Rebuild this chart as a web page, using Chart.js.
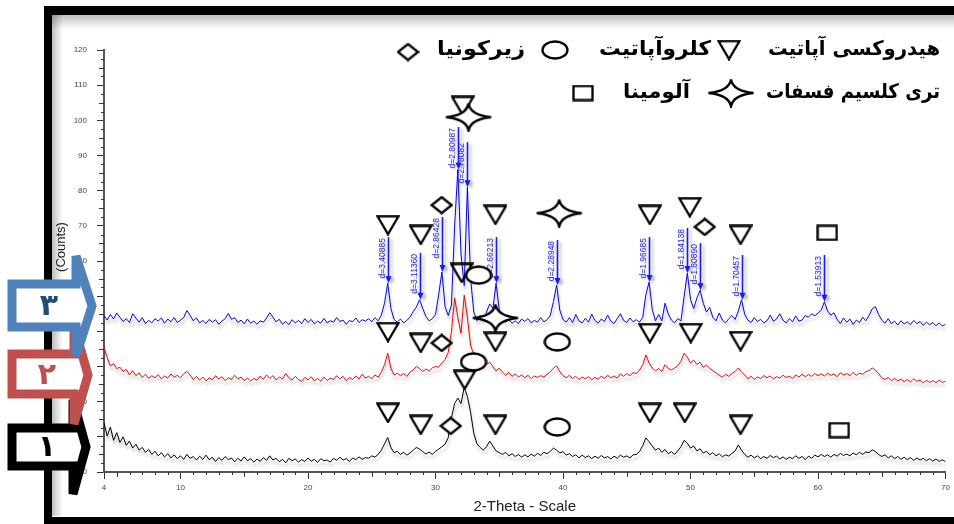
<!DOCTYPE html>
<html>
<head>
<meta charset="utf-8">
<script src="https://cdn.jsdelivr.net/npm/chart.js@4"></script>
<style>
html, body { margin: 0; padding: 0; background: #fff; overflow: hidden; }
canvas { display: block; }
</style>
</head>
<body>
<canvas id="xrd" width="954" height="524"></canvas>
<script>
// 2-theta (deg)
const theta = [
4,4.25,4.5,4.75,5,5.25,5.5,5.75, 6,6.25,6.5,6.75,7,7.25,7.5,7.75,
8,8.25,8.5,8.75,9,9.25,9.5,9.75, 10,10.25,10.5,10.75,11,11.25,11.5,11.75,
12,12.25,12.5,12.75,13,13.25,13.5,13.75, 14,14.25,14.5,14.75,15,15.25,15.5,15.75,
16,16.25,16.5,16.75,17,17.25,17.5,17.75, 18,18.25,18.5,18.75,19,19.25,19.5,19.75,
20,20.25,20.5,20.75,21,21.25,21.5,21.75, 22,22.25,22.5,22.75,23,23.25,23.5,23.75,
24,24.25,24.5,24.75,25,25.25,25.5,25.75, 26,26.25,26.5,26.75,27,27.25,27.5,27.75,
28,28.25,28.5,28.75,29,29.25,29.5,29.75, 30,30.25,30.5,30.75,31,31.25,31.5,31.75,
32,32.25,32.5,32.75,33,33.25,33.5,33.75, 34,34.25,34.5,34.75,35,35.25,35.5,35.75,
36,36.25,36.5,36.75,37,37.25,37.5,37.75, 38,38.25,38.5,38.75,39,39.25,39.5,39.75,
40,40.25,40.5,40.75,41,41.25,41.5,41.75, 42,42.25,42.5,42.75,43,43.25,43.5,43.75,
44,44.25,44.5,44.75,45,45.25,45.5,45.75, 46,46.25,46.5,46.75,47,47.25,47.5,47.75,
48,48.25,48.5,48.75,49,49.25,49.5,49.75, 50,50.25,50.5,50.75,51,51.25,51.5,51.75,
52,52.25,52.5,52.75,53,53.25,53.5,53.75, 54,54.25,54.5,54.75,55,55.25,55.5,55.75,
56,56.25,56.5,56.75,57,57.25,57.5,57.75, 58,58.25,58.5,58.75,59,59.25,59.5,59.75,
60,60.25,60.5,60.75,61,61.25,61.5,61.75, 62,62.25,62.5,62.75,63,63.25,63.5,63.75,
64,64.25,64.5,64.75,65,65.25,65.5,65.75, 66,66.25,66.5,66.75,67,67.25,67.5,67.75,
68,68.25,68.5,68.75,69,69.25,69.5,69.75, 70
];

// sample 3 (blue)
const blue3 = [
44.5,43.2,44.8,43.5,45.2,44.0,42.8,43.6, 42.5,45.0,43.8,42.6,43.9,42.2,43.1,42.4,
43.6,42.9,43.8,42.3,43.5,42.7,43.9,42.5, 43.2,43.9,45.9,44.6,43.0,43.8,42.4,43.1,
42.2,43.4,42.6,43.3,42.0,42.9,43.6,45.1, 43.4,43.9,42.5,43.2,42.1,43.5,42.3,42.9,
42.0,43.0,42.6,43.8,45.3,44.0,42.7,43.4, 42.0,42.8,41.9,43.3,42.4,43.1,42.2,43.6,
42.5,43.4,42.1,42.9,42.3,43.7,42.4,43.0, 42.6,43.9,42.8,43.2,42.0,43.1,42.7,43.8,
42.5,43.3,42.9,43.6,42.7,43.9,43.0,44.6, 48.0,53.7,46.5,43.4,42.6,43.5,42.4,43.1,
44.0,45.6,46.9,49.0,46.5,44.2,43.0,43.6, 44.8,50.5,56.9,47.0,44.5,47.5,70.0,86.0,
62.0,53.0,81.0,55.0,45.5,43.0,44.5,43.2, 45.5,47.8,46.5,53.7,46.0,43.5,42.6,43.4,
42.3,43.0,42.2,43.5,42.8,43.6,42.4,43.1, 42.6,43.9,42.7,43.3,44.5,48.5,53.2,46.0,
43.4,42.6,43.9,42.5,44.8,43.0,42.4,43.7, 42.6,44.9,43.1,42.3,43.5,42.8,44.6,42.9,
42.2,43.6,45.0,43.1,42.5,43.8,42.7,43.3, 42.6,44.0,50.5,54.0,46.2,43.0,44.8,43.0,
48.0,45.0,43.2,42.4,43.6,43.0,50.0,56.6, 49.0,46.5,49.5,51.7,48.0,45.5,46.8,44.0,
43.0,45.2,43.2,42.4,43.6,44.5,43.4,45.8, 49.0,44.8,43.2,42.5,43.9,42.8,43.4,42.4,
43.0,44.6,42.9,43.5,45.0,43.2,42.4,43.6, 42.7,44.4,42.9,43.2,44.5,44.0,45.0,44.4,
45.2,46.0,48.4,45.8,44.6,45.3,43.4,42.2, 43.8,42.6,43.5,42.0,43.2,42.5,44.0,43.0,
44.5,46.4,47.0,44.8,43.2,42.3,43.6,42.2, 42.9,41.8,43.0,42.1,42.7,41.9,43.1,42.2,
42.8,41.7,42.6,41.9,42.5,41.6,42.4,41.5, 42.0
];

// sample 2 (red)
const red2 = [
35.5,32.5,30.2,30.8,29.4,29.8,28.6,29.2, 27.6,28.8,27.4,28.2,26.9,27.8,26.6,27.4,
26.8,27.7,26.5,27.3,26.7,27.9,26.9,27.5, 26.8,27.9,28.6,27.6,26.3,27.2,26.1,27.0,
25.9,26.8,26.2,27.4,26.4,27.1,26.0,26.8, 26.3,27.5,26.5,27.0,26.0,26.7,25.9,26.6,
26.1,27.3,26.4,27.6,26.6,27.4,26.2,27.0, 26.5,28.0,26.8,26.1,27.2,26.3,25.8,26.9,
26.2,27.1,25.9,26.6,25.8,27.0,26.0,26.7, 26.3,27.4,26.5,27.2,26.0,26.9,26.3,27.3,
26.4,27.8,26.7,27.2,26.5,27.6,27.0,28.4, 30.5,33.8,29.5,27.6,28.1,27.4,28.0,27.2,
28.4,29.0,30.0,29.4,28.6,29.3,28.7,29.6, 30.0,29.8,31.0,32.0,34.0,40.0,49.5,44.0,
39.5,50.3,44.0,36.0,33.5,31.6,30.8,30.0, 30.6,31.2,30.0,28.8,29.5,28.4,27.5,28.3,
27.2,27.9,27.0,27.6,26.8,27.5,26.6,27.3, 26.9,27.4,27.0,27.8,28.5,29.5,30.2,28.5,
27.4,26.8,27.5,26.6,27.2,26.3,27.0,26.5, 27.1,26.2,26.9,26.4,27.2,26.6,27.5,26.8,
27.3,26.7,27.9,27.2,28.0,27.4,28.3,28.0, 29.0,30.5,33.3,31.0,29.6,28.8,29.4,28.6,
30.5,29.5,29.0,29.6,30.2,31.5,33.8,32.6, 31.0,31.8,30.6,31.2,29.8,30.4,29.5,28.8,
28.2,27.5,27.0,27.8,27.2,28.0,28.6,29.6, 28.4,27.6,26.5,27.2,26.3,27.0,26.6,27.4,
26.8,27.3,26.5,27.1,26.7,27.5,26.9,27.2, 26.6,27.6,27.0,27.8,27.1,27.7,27.2,28.0,
27.4,27.9,27.3,28.1,27.5,27.9,27.1,28.2, 27.6,28.0,27.4,28.3,27.5,28.1,27.8,28.5,
28.8,29.6,29.0,28.0,26.8,26.3,26.9,26.0, 26.6,25.9,26.4,25.7,26.3,25.6,26.5,25.8,
26.1,25.4,26.0,25.5,26.0,25.4,26.1,25.5, 25.8
];

// sample 1 (black)
const black1 = [
14.0,10.2,12.8,9.0,11.2,8.4,10.0,7.6, 8.8,6.8,7.9,6.2,7.0,5.6,6.4,5.0,
5.9,4.6,5.5,4.3,5.2,4.0,4.9,3.8, 4.6,3.6,5.0,3.9,4.4,3.4,4.5,3.6,
4.8,3.5,4.2,3.0,4.1,3.3,4.4,3.5, 4.0,2.9,3.9,3.1,4.3,3.2,3.8,2.8,
3.7,3.0,4.1,3.3,4.6,3.4,3.9,2.9, 3.6,2.6,3.9,3.2,3.7,2.8,3.5,3.0,
4.0,3.1,3.6,2.7,3.8,3.2,3.4,2.8, 3.9,3.3,4.2,3.4,3.8,3.0,4.0,3.5,
4.3,3.6,4.1,3.9,4.6,4.2,5.0,6.2, 8.0,9.8,7.0,5.5,5.9,5.0,5.6,4.8,
5.4,6.2,7.0,6.5,5.8,5.1,5.7,5.0, 5.9,6.5,7.2,7.9,9.8,15.5,19.5,21.0,
19.5,24.0,21.5,17.0,11.0,8.0,7.0,6.2, 7.2,8.8,7.4,6.0,5.5,5.0,5.6,4.6,
5.2,4.4,5.0,4.2,4.9,4.3,5.1,4.5, 5.3,4.7,5.6,5.2,5.9,6.8,6.2,5.4,
5.8,4.8,5.2,4.4,4.9,4.0,4.8,4.1, 4.6,3.8,4.5,3.9,4.7,4.0,4.4,3.7,
4.5,3.9,4.8,4.2,4.6,4.0,4.9,5.0, 5.8,7.5,9.7,8.6,7.4,6.2,6.8,5.6,
6.4,5.2,5.8,5.0,6.0,7.2,9.0,8.2, 6.8,7.4,6.0,6.6,5.4,5.9,4.9,5.5,
4.6,5.2,4.3,4.9,4.5,5.3,6.0,7.7, 6.2,5.0,4.2,4.8,4.0,4.6,3.8,4.4,
3.9,4.7,4.1,4.5,3.7,4.3,3.6,4.2, 3.8,4.6,3.9,4.4,3.5,4.5,3.9,4.8,
4.3,5.0,4.4,4.9,4.2,5.0,4.5,5.3, 4.7,5.1,4.6,5.4,4.9,5.6,5.0,5.7,
5.5,6.3,5.8,5.0,4.4,4.9,4.0,4.6, 3.8,4.4,3.6,4.2,3.5,4.1,3.3,4.0,
3.4,3.9,3.2,3.8,3.1,3.7,3.0,3.5, 2.9
];

// d-spacing labels on sample 3
const dTheta = [26.25, 28.75, 30.5, 31.75, 32.5, 34.75, 39.5, 46.75, 49.75, 50.75, 54.0, 60.5];
const dPeak  = [53.7, 49.0, 56.9, 86.0, 81.0, 53.7, 53.2, 54.0, 56.6, 51.7, 49.0, 48.4];
const dTop   = [66.8, 62.3, 72.5, 98.1, 93.8, 66.8, 66.0, 66.8, 69.4, 65.1, 61.7, 61.7];
const dText  = ['d=3.40885', 'd=3.11360', 'd=2.86428', 'd=2.80987', 'd=2.78082', 'd=2.66213',
                'd=2.28948', 'd=1.96685', 'd=1.84138', 'd=1.80890', 'd=1.70457', 'd=1.53913'];

// phase markers [2theta, counts]
const triangleMarks = [
  [26.27, 70.2], [28.84, 67.4], [34.7, 73.1], [46.81, 73.1], [49.94, 75.3], [53.92, 67.4], [32.13, 104.1],
  [26.27, 39.8], [28.84, 36.7], [32.05, 56.6], [34.7, 37.0], [46.81, 39.5], [50.02, 39.5], [53.92, 37.2],
  [26.27, 16.8], [28.84, 13.4], [32.28, 26.2], [34.7, 13.4], [46.81, 16.8], [49.55, 16.8], [53.92, 13.4]
];
const circleMarks  = [[33.38, 56.0], [32.98, 31.3], [39.55, 37.0], [39.55, 12.8]];
const diamondMarks = [[30.48, 75.9], [51.11, 69.7], [30.48, 36.7], [31.19, 13.1]];
const starMarks    = [[32.59, 100.9], [39.7, 73.6], [34.7, 43.8]];
const squareMarks  = [[60.72, 68.0], [61.66, 11.9]];

// legend texts
const legendRow1 = ['هیدروکسی آپاتیت', 'کلروآپاتیت', 'زیرکونیا'];
const legendRow2 = ['تری کلسیم فسفات', 'آلومینا'];
const sampleNames = ['۳', '۲', '۱'];

// marker shapes
function makeShape(w, h, draw) {
    const c = document.createElement('canvas');
    c.width = w; c.height = h;
    const g = c.getContext('2d');
    g.strokeStyle = '#000';
    g.fillStyle = '#fff';
    g.lineWidth = 2.3;
    g.lineJoin = 'miter';
    draw(g, w, h);
    return c;
}
const triImg = makeShape(24, 21, (g, w, h) => {
    g.beginPath(); g.moveTo(1.5, 1.5); g.lineTo(w - 1.5, 1.5); g.lineTo(w / 2, h - 1.5); g.closePath(); g.stroke();
});
const circImg = makeShape(28, 20, (g, w, h) => {
    g.beginPath(); g.ellipse(w / 2, h / 2, w / 2 - 1.5, h / 2 - 1.5, 0, 0, Math.PI * 2); g.fill(); g.stroke();
});
const diaImg = makeShape(23, 19, (g, w, h) => {
    g.beginPath(); g.moveTo(w / 2, 1.5); g.lineTo(w - 1.5, h / 2); g.lineTo(w / 2, h - 1.5); g.lineTo(1.5, h / 2); g.closePath(); g.fill(); g.stroke();
});
const starImg = makeShape(48, 30, (g, w, h) => {
    const cx = w / 2, cy = h / 2;
    g.beginPath();
    g.moveTo(cx, 1.5);
    g.quadraticCurveTo(cx + 2, cy - 2, w - 1.5, cy);
    g.quadraticCurveTo(cx + 2, cy + 2, cx, h - 1.5);
    g.quadraticCurveTo(cx - 2, cy + 2, 1.5, cy);
    g.quadraticCurveTo(cx - 2, cy - 2, cx, 1.5);
    g.fill(); g.stroke();
});
const sqImg = makeShape(22, 17, (g, w, h) => {
    g.fillRect(1.5, 1.5, w - 3, h - 3); g.strokeRect(1.5, 1.5, w - 3, h - 3);
});

function toXY(xs, ys) {
    return xs.map((x, i) => ({ x: x, y: ys[i] }));
}
function markPts(list) {
    return list.map(p => ({ x: p[0], y: p[1] }));
}

function drawDLabels(chart) {
    const c = chart.ctx, xs = chart.scales.x, ys = chart.scales.y;
    c.save();
    c.shadowColor = 'rgba(0,0,0,0.25)';
    c.shadowBlur = 3; c.shadowOffsetX = 3; c.shadowOffsetY = 2;
    c.strokeStyle = '#1a1aff'; c.fillStyle = '#1a1aff'; c.lineWidth = 1.6;
    c.font = '8.5px "Liberation Sans", Arial, sans-serif';
    dTheta.forEach((t, i) => {
        const x = Math.round(xs.getPixelForValue(t)) + 0.5;
        const y0 = ys.getPixelForValue(dPeak[i]);
        const y1 = ys.getPixelForValue(dTop[i]);
        c.beginPath(); c.moveTo(x, y0 - 4); c.lineTo(x, y1); c.stroke();
        c.beginPath(); c.moveTo(x, y0); c.lineTo(x - 3, y0 - 7); c.lineTo(x + 3, y0 - 7); c.closePath(); c.fill();
        c.save();
        c.translate(x - 1.5, y1 + 1);
        c.rotate(-Math.PI / 2);
        c.textAlign = 'right'; c.textBaseline = 'bottom';
        c.fillText(dText[i], 0, 0);
        c.restore();
    });
    c.restore();
}

function blockArrow(c, a) {
    const tipY = (a.headTop + a.headBot) / 2;
    c.beginPath();
    c.moveTo(a.x0, a.top);
    c.lineTo(a.neck, a.top);
    c.lineTo(a.neck, a.headTop);
    c.lineTo(a.tip, tipY);
    c.lineTo(a.neck, a.headBot);
    c.lineTo(a.neck, a.bot);
    c.lineTo(a.x0, a.bot);
    c.closePath();
    c.fillStyle = '#fff';
    c.fill();
    c.lineWidth = 9;
    c.lineJoin = 'miter';
    c.miterLimit = 6;
    c.strokeStyle = a.color;
    c.stroke();
    c.fillStyle = a.text;
    c.font = 'bold 30px "DejaVu Sans", sans-serif';
    c.textAlign = 'center';
    c.textBaseline = 'middle';
    c.fillText(a.label, a.lx, a.ly);
}

// right-aligned RTL text squeezed to a given width
function fitText(c, text, right, y, width) {
    const w = c.measureText(text).width;
    c.save();
    c.translate(right, y);
    c.scale(width / w, 1);
    c.fillText(text, 0, 0);
    c.restore();
}

const decorPlugin = {
    id: 'decor',
    beforeDraw(chart) {
        const c = chart.ctx;
        c.save();
        c.fillStyle = '#fff';
        c.fillRect(0, 0, chart.width, chart.height);
        let g = c.createLinearGradient(0, 15, 0, 29);
        g.addColorStop(0, 'rgba(0,0,0,0.25)'); g.addColorStop(1, 'rgba(0,0,0,0)');
        c.fillStyle = g; c.fillRect(52, 15, 902, 14);
        g = c.createLinearGradient(52, 0, 63, 0);
        g.addColorStop(0, 'rgba(0,0,0,0.25)'); g.addColorStop(1, 'rgba(0,0,0,0)');
        c.fillStyle = g; c.fillRect(52, 15, 11, 501);
        c.fillStyle = '#000';
        c.fillRect(44, 6, 910, 9);
        c.fillRect(44, 6, 8, 518);
        c.fillRect(44, 517, 910, 7);
        c.restore();
    },
    beforeDatasetDraw(chart, args) {
        if (chart.data.datasets[args.index].shadow) {
            const c = chart.ctx;
            c.save();
            c.shadowColor = 'rgba(0,0,0,0.3)';
            c.shadowBlur = 3; c.shadowOffsetX = 1; c.shadowOffsetY = 4;
        }
    },
    afterDatasetDraw(chart, args) {
        const ds = chart.data.datasets[args.index];
        if (ds.shadow) chart.ctx.restore();
        if (ds.dLabels) drawDLabels(chart);
    },
    afterDraw(chart) {
        const c = chart.ctx, xs = chart.scales.x, ys = chart.scales.y;
        const area = chart.chartArea;
        c.save();
        // minor ticks
        c.strokeStyle = '#333'; c.lineWidth = 1;
        c.beginPath();
        for (let v = 5; v < 70; v += 1) {
            if (v % 10 === 0) continue;
            const x = Math.round(xs.getPixelForValue(v)) + 0.5;
            c.moveTo(x, area.bottom); c.lineTo(x, area.bottom + (v % 5 === 0 ? 5 : 3));
        }
        for (let v = 2.5; v < 120; v += 2.5) {
            if (v % 10 === 0) continue;
            const y = Math.round(ys.getPixelForValue(v)) + 0.5;
            c.moveTo(area.left, y); c.lineTo(area.left - (v % 5 === 0 ? 5 : 3), y);
        }
        c.stroke();

        // axis titles
        c.fillStyle = '#222';
        c.font = '15px "Liberation Sans Narrow", "Liberation Sans", Arial, sans-serif';
        c.textAlign = 'center'; c.textBaseline = 'middle';
        c.fillText('2-Theta - Scale', (area.left + area.right) / 2, 507);
        c.save();
        c.translate(61, 247);
        c.rotate(-Math.PI / 2);
        c.font = '13px "Liberation Sans", Arial, sans-serif';
        c.fillText('(Counts)', 0, 0);
        c.restore();

        // legend
        c.fillStyle = '#000';
        c.font = 'bold 20px "DejaVu Sans", sans-serif';
        c.direction = 'rtl';
        c.textAlign = 'right'; c.textBaseline = 'middle';
        fitText(c, legendRow1[0], 940, 50, 172);
        fitText(c, legendRow1[1], 711, 50, 112);
        fitText(c, legendRow1[2], 525, 50, 88);
        fitText(c, legendRow2[0], 940, 93, 174);
        fitText(c, legendRow2[1], 690, 93, 67);
        c.direction = 'ltr';
        const put = (img, x, y) => c.drawImage(img, x - img.width / 2, y - img.height / 2);
        put(triImg, 729, 50);
        put(circImg, 555, 50);
        put(diaImg, 408, 52);
        put(starImg, 731, 93);
        put(sqImg, 583, 93);

        // sample arrows
        blockArrow(c, { x0: 12, top: 428, bot: 466, neck: 73, headTop: 400, headBot: 494, tip: 86,
                        color: '#000000', text: '#000000', label: sampleNames[2], lx: 47, ly: 448 });
        blockArrow(c, { x0: 12, top: 354, bot: 394, neck: 74, headTop: 326, headBot: 424, tip: 88,
                        color: '#C0504D', text: '#C0504D', label: sampleNames[1], lx: 47, ly: 376 });
        blockArrow(c, { x0: 12, top: 284, bot: 327, neck: 76, headTop: 256, headBot: 356, tip: 92,
                        color: '#4F81BD', text: '#1F4E79', label: sampleNames[0], lx: 49, ly: 307 });
        c.restore();
    }
};

const lineStyle = { borderWidth: 1, pointRadius: 0, tension: 0, fill: false, shadow: true };
const markStyle = { showLine: false, pointRadius: 6, pointHoverRadius: 6, clip: false };

new Chart(document.getElementById('xrd'), {
    type: 'line',
    data: {
        datasets: [
            Object.assign({ label: '3', data: toXY(theta, blue3), borderColor: '#0000ff', order: 9, dLabels: true }, lineStyle),
            Object.assign({ label: '2', data: toXY(theta, red2), borderColor: '#ff0000', order: 8 }, lineStyle),
            Object.assign({ label: '1', data: toXY(theta, black1), borderColor: '#000000', order: 7 }, lineStyle),
            Object.assign({ label: 'hydroxyapatite', data: markPts(triangleMarks), pointStyle: triImg, order: 5 }, markStyle),
            Object.assign({ label: 'zirconia', data: markPts(diamondMarks), pointStyle: diaImg, order: 4 }, markStyle),
            Object.assign({ label: 'alumina', data: markPts(squareMarks), pointStyle: sqImg, order: 4 }, markStyle),
            Object.assign({ label: 'chlorapatite', data: markPts(circleMarks), pointStyle: circImg, order: 3 }, markStyle),
            Object.assign({ label: 'tcp', data: markPts(starMarks), pointStyle: starImg, order: 2 }, markStyle)
        ]
    },
    options: {
        responsive: false,
        animation: false,
        events: [],
        devicePixelRatio: 1,
        layout: { padding: { top: 50, right: 5, left: 0, bottom: 0 } },
        plugins: { legend: { display: false }, tooltip: { enabled: false } },
        scales: {
            x: {
                type: 'linear', min: 4, max: 70,
                afterFit(s) { s.height = 52; },
                ticks: { stepSize: 10, autoSkip: false, maxRotation: 0, padding: 4, color: '#444',
                         font: { family: '"Liberation Sans", Arial, sans-serif', size: 8 } },
                grid: { drawOnChartArea: false, tickLength: 7, color: '#333' },
                border: { color: '#555', width: 2 }
            },
            y: {
                min: 0, max: 120,
                afterFit(s) { s.width = 104; },
                ticks: { stepSize: 10, padding: 10, color: '#444',
                         font: { family: '"Liberation Sans", Arial, sans-serif', size: 8 } },
                grid: { drawOnChartArea: false, tickLength: 7, color: '#333' },
                border: { color: '#555', width: 2 }
            }
        }
    },
    plugins: [decorPlugin]
});
</script>
</body>
</html>
